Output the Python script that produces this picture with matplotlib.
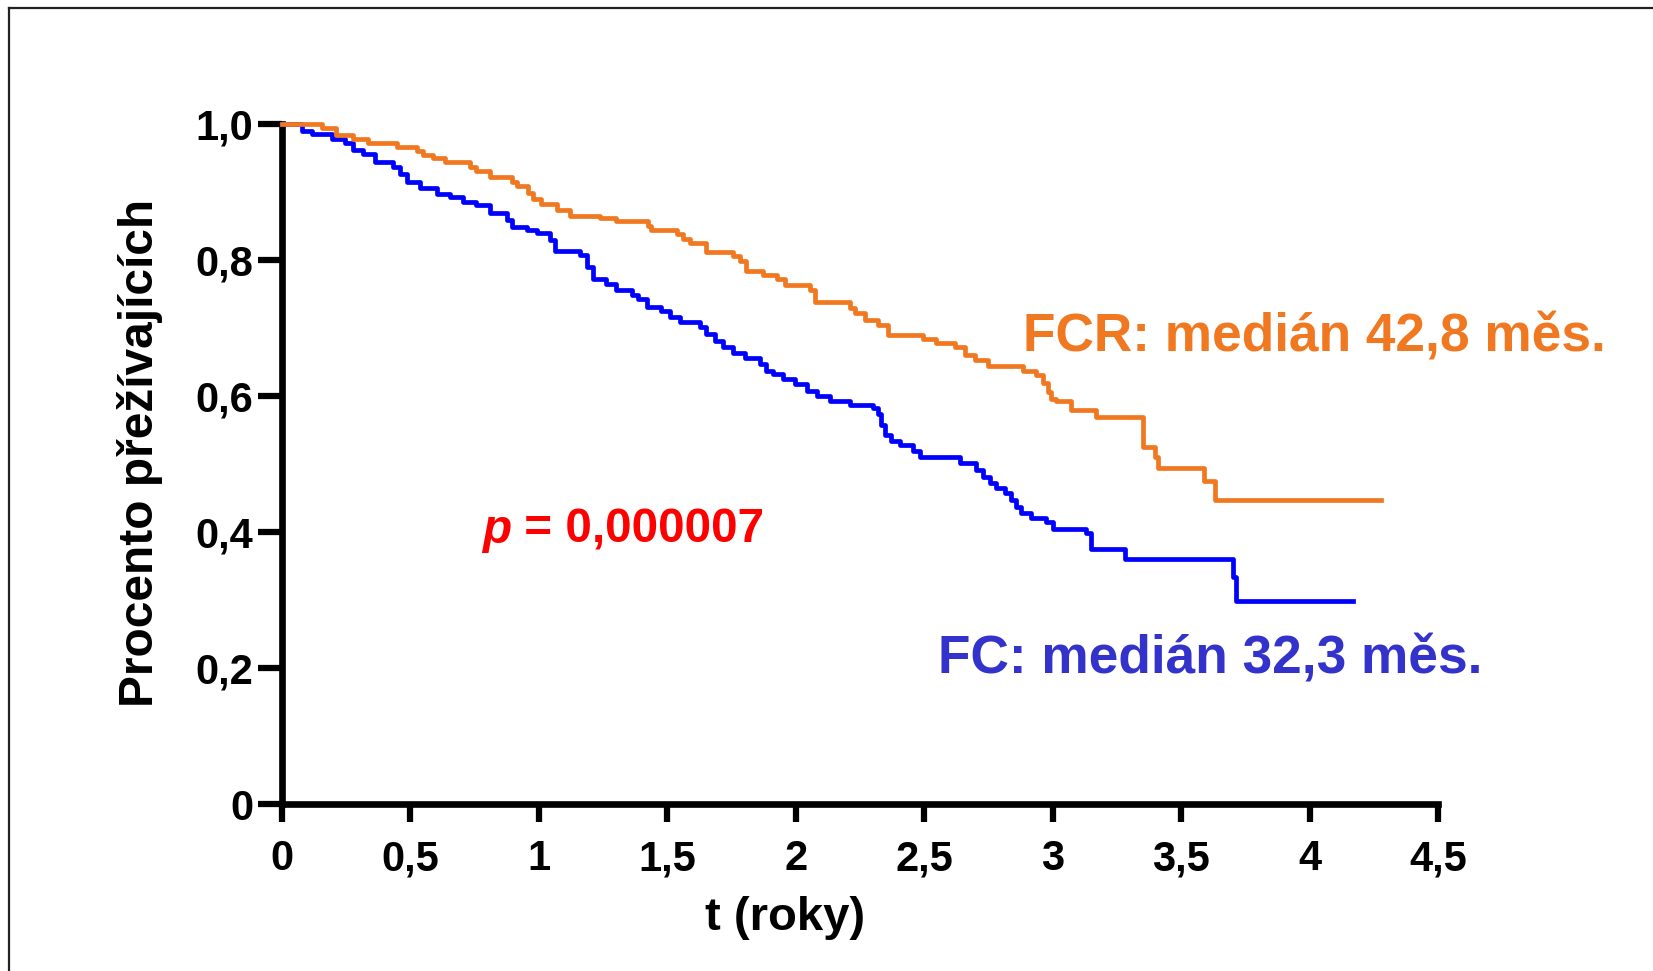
import matplotlib.pyplot as plt
from matplotlib.lines import Line2D

plt.rcParams['font.family'] = ['Liberation Sans', 'DejaVu Sans']
plt.rcParams['font.weight'] = 'bold'

# FCR arm: times of drops (years) and survival after each drop
fcrT = [0, 0.154, 0.210, 0.278, 0.336, 0.446, 0.524, 0.550, 0.589, 0.634,
        0.732, 0.757, 0.809, 0.894, 0.913, 0.958, 0.978, 1.010, 1.069, 1.121,
        1.237, 1.302, 1.425, 1.438, 1.536, 1.562, 1.588, 1.652, 1.756, 1.782,
        1.808, 1.873, 1.925, 1.957, 2.054, 2.074, 2.210, 2.230, 2.268, 2.320,
        2.359, 2.495, 2.547, 2.619, 2.658, 2.696, 2.748, 2.884, 2.937, 2.962,
        2.982, 2.995, 3.014, 3.073, 3.170, 3.352, 3.397, 3.410, 3.591, 3.630,
        4.279]
fcrS = [1.0, 0.994, 0.985, 0.978, 0.973, 0.967, 0.961, 0.955, 0.950, 0.944,
        0.938, 0.932, 0.922, 0.916, 0.909, 0.899, 0.890, 0.883, 0.874, 0.866,
        0.863, 0.858, 0.850, 0.844, 0.839, 0.832, 0.825, 0.813, 0.806, 0.799,
        0.784, 0.779, 0.772, 0.764, 0.756, 0.739, 0.730, 0.722, 0.713, 0.705,
        0.690, 0.685, 0.679, 0.672, 0.661, 0.653, 0.645, 0.638, 0.631, 0.619,
        0.607, 0.596, 0.593, 0.580, 0.569, 0.525, 0.511, 0.495, 0.476, 0.448,
        0.448]

# FC arm
fcT = [0, 0.077, 0.116, 0.193, 0.245, 0.278, 0.316, 0.362, 0.433, 0.459,
       0.485, 0.537, 0.602, 0.654, 0.706, 0.757, 0.809, 0.874, 0.894, 0.952,
       0.991, 1.043, 1.062, 1.160, 1.186, 1.211, 1.263, 1.302, 1.361, 1.387,
       1.419, 1.477, 1.510, 1.549, 1.626, 1.652, 1.685, 1.717, 1.756, 1.802,
       1.860, 1.886, 1.912, 1.951, 1.996, 2.042, 2.081, 2.132, 2.210, 2.301,
       2.320, 2.333, 2.346, 2.372, 2.405, 2.456, 2.482, 2.640, 2.703, 2.729,
       2.755, 2.781, 2.813, 2.839, 2.859, 2.878, 2.917, 2.975, 3.001, 3.131,
       3.151, 3.280, 3.702, 3.715, 4.169]
fcS = [1.0, 0.991, 0.986, 0.978, 0.972, 0.962, 0.956, 0.945, 0.937, 0.927,
       0.915, 0.907, 0.898, 0.893, 0.886, 0.881, 0.869, 0.860, 0.849, 0.844,
       0.840, 0.830, 0.814, 0.808, 0.790, 0.773, 0.765, 0.756, 0.749, 0.743,
       0.732, 0.726, 0.717, 0.710, 0.702, 0.692, 0.682, 0.673, 0.664, 0.657,
       0.648, 0.638, 0.633, 0.626, 0.618, 0.608, 0.601, 0.593, 0.588, 0.583,
       0.574, 0.558, 0.543, 0.535, 0.528, 0.519, 0.511, 0.502, 0.492, 0.482,
       0.473, 0.465, 0.458, 0.448, 0.437, 0.428, 0.421, 0.416, 0.405, 0.399,
       0.376, 0.361, 0.335, 0.299, 0.299]

xTicks = [0, 0.5, 1, 1.5, 2, 2.5, 3, 3.5, 4, 4.5]
xTickLabels = ['0', '0,5', '1', '1,5', '2', '2,5', '3', '3,5', '4', '4,5']
yTicks = [0, 0.2, 0.4, 0.6, 0.8, 1.0]
yTickLabels = ['0', '0,2', '0,4', '0,6', '0,8', '1,0']

W, H = 1653, 971
fig = plt.figure(figsize=(W / 100, H / 100), dpi=100)
ax = fig.add_axes([282 / W, (H - 804.4) / H, (1438 - 282) / W, 680 / H])

ax.step(fcT, fcS, where='post', color='#0000FF', lw=3.4, clip_on=False, zorder=3)
ax.step(fcrT, fcrS, where='post', color='#F07820', lw=3.4, clip_on=False, zorder=4)

ax.set_xlim(0, 4.5)
ax.set_ylim(0, 1.0)
for s in ['top', 'right']:
    ax.spines[s].set_visible(False)
for s in ['left', 'bottom']:
    ax.spines[s].set_linewidth(4.8)
    ax.spines[s].set_capstyle('projecting')

ax.set_xticks(xTicks)
ax.set_xticklabels(xTickLabels, fontsize=30, fontweight='bold')
ax.set_yticks(yTicks)
ax.set_yticklabels(yTickLabels, fontsize=30, fontweight='bold')
ax.tick_params(axis='x', direction='out', length=13, width=4.5, pad=12)
ax.tick_params(axis='y', direction='out', length=17, width=4.5, pad=3.5)

ax.set_xlabel('t (roky)', fontsize=34, fontweight='bold')
ax.xaxis.set_label_coords(1.96 / 4.5, -0.135)
ax.set_ylabel('Procento přežívajících', fontsize=34.5, fontweight='bold')
ax.yaxis.set_label_coords(-0.103, 0.517)

ax.text(2.883, 0.666, 'FCR: medián 42,8 měs.', color='#F07820', fontsize=38.3,
        fontweight='bold', ha='left', va='baseline')
ax.text(2.553, 0.193, 'FC: medián 32,3 měs.', color='#3333CC', fontsize=38.3,
        fontweight='bold', ha='left', va='baseline')
pTxt = ax.text(0.778, 0.385, 'p', color='#FF0000', fontsize=34.3, fontweight='bold',
               fontstyle='italic', ha='left', va='baseline')
ax.annotate(' = 0,000007', xy=(1, 0), xycoords=pTxt, color='#FF0000', fontsize=34.3,
            fontweight='bold', ha='left', va='bottom')

# frame of the cropped slide
fig.add_artist(Line2D([9 / W, 1], [1 - 8.5 / H, 1 - 8.5 / H], color='#222222', lw=1.6))
fig.add_artist(Line2D([9 / W, 9 / W], [0, 1 - 8.5 / H], color='#222222', lw=1.6))

fig.savefig('out.png', dpi=100)
